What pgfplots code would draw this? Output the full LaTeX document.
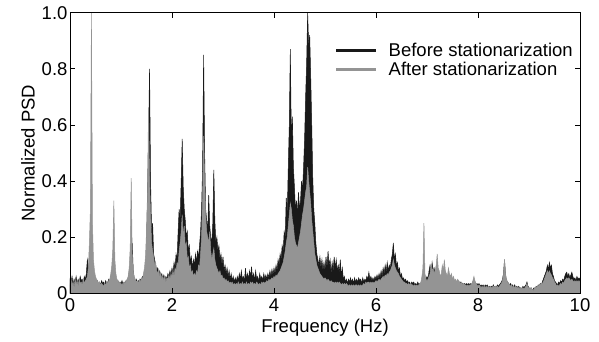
\documentclass[border=0pt]{standalone}
\usepackage{fontspec}
\setmainfont{Liberation Sans}
\usepackage{pgfplots}
\pgfplotsset{compat=1.18}
\usepackage{pgfplotstable}
\definecolor{psdblack}{RGB}{25,25,25}
\definecolor{psdgray}{RGB}{148,148,148}
\pgfplotstableread{
x b g
0.00 .05 .03
0.02 .04 .05
0.04 .06 .03
0.06 .03 .04
0.08 .05 .02
0.10 .04 .05
0.12 .06 .03
0.14 .035 .045
0.16 .05 .025
0.18 .04 .05
0.20 .06 .035
0.22 .045 .04
0.24 .05 .03
0.26 .035 .05
0.28 .06 .035
0.30 .05 .045
0.32 .07 .05
0.34 .12 .06
0.36 .10 .09
0.38 .08 .18
0.40 .06 .30
0.42 .05 1.0
0.44 .05 .25
0.46 .06 .12
0.48 .04 .08
0.50 .05 .06
0.52 .035 .05
0.54 .045 .045
0.56 .03 .035
0.58 .04 .04
0.60 .03 .03
0.62 .045 .035
0.64 .035 .03
0.66 .04 .025
0.68 .03 .035
0.70 .045 .03
0.72 .035 .04
0.74 .04 .035
0.76 .05 .045
0.78 .04 .05
0.80 .06 .07
0.82 .05 .10
0.84 .04 .16
0.86 .05 .33
0.88 .04 .12
0.90 .05 .07
0.92 .035 .05
0.94 .045 .045
0.96 .03 .035
0.98 .04 .04
1.00 .035 .03
1.02 .045 .035
1.04 .03 .03
1.06 .04 .04
1.08 .035 .035
1.10 .045 .045
1.12 .04 .05
1.14 .05 .06
1.16 .07 .09
1.18 .10 .16
1.20 .09 .41
1.22 .18 .14
1.24 .08 .08
1.26 .05 .06
1.28 .04 .05
1.30 .05 .04
1.32 .035 .045
1.34 .045 .035
1.36 .04 .05
1.38 .05 .04
1.40 .045 .055
1.42 .06 .05
1.44 .055 .07
1.46 .07 .09
1.48 .09 .13
1.50 .15 .22
1.52 .35 .36
1.54 .55 .66
1.56 .80 .40
1.58 .40 .28
1.60 .22 .18
1.62 .25 .15
1.64 .14 .13
1.66 .12 .10
1.68 .10 .11
1.70 .08 .08
1.72 .09 .07
1.74 .07 .085
1.76 .08 .06
1.78 .06 .07
1.80 .07 .05
1.82 .05 .06
1.84 .065 .045
1.86 .05 .06
1.88 .06 .04
1.90 .05 .055
1.92 .07 .05
1.94 .06 .065
1.96 .08 .05
1.98 .065 .07
2.00 .09 .06
2.02 .07 .08
2.04 .11 .06
2.06 .09 .09
2.08 .14 .08
2.10 .12 .11
2.12 .22 .10
2.14 .30 .15
2.16 .26 .18
2.18 .40 .22
2.20 .55 .28
2.22 .38 .20
2.24 .30 .24
2.26 .26 .16
2.28 .20 .18
2.30 .22 .12
2.32 .15 .13
2.34 .17 .09
2.36 .11 .10
2.38 .13 .07
2.40 .09 .08
2.42 .12 .06
2.44 .10 .07
2.46 .14 .06
2.48 .11 .08
2.50 .15 .07
2.52 .13 .10
2.54 .17 .09
2.56 .22 .14
2.58 .30 .20
2.60 .45 .35
2.62 .85 .56
2.64 .50 .40
2.66 .30 .28
2.68 .26 .22
2.70 .22 .20
2.72 .35 .18
2.74 .24 .22
2.76 .20 .15
2.78 .18 .12
2.80 .25 .14
2.82 .44 .16
2.84 .26 .12
2.86 .18 .10
2.88 .20 .09
2.90 .15 .08
2.92 .17 .07
2.94 .12 .08
2.96 .14 .06
2.98 .10 .065
3.00 .13 .05
3.02 .08 .055
3.04 .10 .045
3.06 .07 .05
3.08 .09 .04
3.10 .06 .045
3.12 .08 .035
3.14 .05 .04
3.16 .07 .035
3.18 .045 .04
3.20 .06 .03
3.22 .04 .035
3.24 .055 .03
3.26 .04 .035
3.28 .06 .03
3.30 .045 .04
3.32 .07 .03
3.34 .05 .035
3.36 .08 .03
3.38 .05 .04
3.40 .06 .03
3.42 .04 .035
3.44 .09 .03
3.46 .05 .04
3.48 .07 .03
3.50 .05 .035
3.52 .08 .03
3.54 .06 .04
3.56 .095 .035
3.58 .05 .04
3.60 .07 .03
3.62 .045 .035
3.64 .08 .03
3.66 .05 .04
3.68 .06 .035
3.70 .04 .03
3.72 .07 .035
3.74 .05 .03
3.76 .06 .04
3.78 .045 .035
3.80 .07 .04
3.82 .05 .035
3.84 .065 .04
3.86 .05 .045
3.88 .07 .04
3.90 .055 .05
3.92 .08 .045
3.94 .06 .05
3.96 .085 .055
3.98 .065 .05
4.00 .09 .06
4.02 .07 .055
4.04 .10 .065
4.06 .08 .06
4.08 .12 .07
4.10 .10 .075
4.12 .14 .08
4.14 .12 .09
4.16 .17 .10
4.18 .15 .11
4.20 .22 .13
4.22 .20 .15
4.24 .34 .18
4.26 .28 .20
4.28 .45 .24
4.30 .60 .28
4.32 .87 .32
4.34 .55 .30
4.36 .63 .26
4.38 .45 .24
4.40 .38 .20
4.42 .30 .18
4.44 .33 .17
4.46 .28 .16
4.48 .36 .18
4.50 .30 .20
4.52 .33 .22
4.54 .40 .25
4.56 .37 .28
4.58 .45 .30
4.60 .55 .33
4.62 .70 .36
4.64 .82 .38
4.66 1.00 .45
4.68 .88 .40
4.70 .92 .36
4.72 .77 .32
4.74 .60 .26
4.76 .41 .22
4.78 .30 .18
4.80 .25 .14
4.82 .18 .12
4.84 .14 .10
4.86 .12 .09
4.88 .10 .08
4.90 .13 .07
4.92 .09 .065
4.94 .12 .06
4.96 .08 .055
4.98 .11 .05
5.00 .08 .055
5.02 .13 .05
5.04 .09 .045
5.06 .15 .05
5.08 .10 .045
5.10 .12 .04
5.12 .07 .045
5.14 .11 .04
5.16 .08 .04
5.18 .13 .035
5.20 .09 .04
5.22 .12 .035
5.24 .08 .04
5.26 .10 .035
5.28 .07 .04
5.30 .12 .035
5.32 .06 .03
5.34 .09 .035
5.36 .05 .03
5.38 .06 .035
5.40 .04 .03
5.42 .05 .035
5.44 .035 .03
5.46 .05 .025
5.48 .04 .03
5.50 .055 .025
5.52 .04 .03
5.54 .05 .025
5.56 .035 .03
5.58 .055 .025
5.60 .04 .03
5.62 .05 .03
5.64 .04 .025
5.66 .055 .03
5.68 .045 .025
5.70 .05 .03
5.72 .035 .025
5.74 .055 .03
5.76 .04 .035
5.78 .05 .03
5.80 .045 .04
5.82 .06 .035
5.84 .05 .04
5.86 .075 .04
5.88 .05 .035
5.90 .06 .04
5.92 .045 .035
5.94 .055 .04
5.96 .045 .035
5.98 .06 .04
6.00 .05 .045
6.02 .065 .04
6.04 .05 .045
6.06 .07 .05
6.08 .055 .045
6.10 .08 .05
6.12 .06 .055
6.14 .09 .06
6.16 .07 .055
6.18 .10 .065
6.20 .075 .06
6.22 .11 .07
6.24 .08 .065
6.26 .10 .075
6.28 .09 .08
6.30 .12 .09
6.32 .14 .10
6.34 .18 .12
6.36 .12 .10
6.38 .14 .09
6.40 .10 .08
6.42 .11 .075
6.44 .08 .07
6.46 .09 .06
6.48 .06 .055
6.50 .07 .05
6.52 .05 .045
6.54 .055 .04
6.56 .045 .04
6.58 .05 .035
6.60 .04 .035
6.62 .045 .03
6.64 .035 .035
6.66 .04 .03
6.68 .03 .035
6.70 .04 .03
6.72 .035 .03
6.74 .04 .025
6.76 .03 .03
6.78 .035 .025
6.80 .03 .03
6.82 .04 .025
6.84 .03 .03
6.86 .035 .035
6.88 .03 .04
6.90 .04 .06
6.92 .035 .09
6.94 .04 .25
6.96 .035 .07
6.98 .05 .05
7.00 .06 .045
7.02 .05 .05
7.04 .08 .06
7.06 .10 .07
7.08 .07 .10
7.10 .11 .08
7.12 .08 .09
7.14 .09 .07
7.16 .06 .08
7.18 .08 .10
7.20 .07 .14
7.22 .06 .09
7.24 .05 .08
7.26 .06 .06
7.28 .05 .07
7.30 .06 .10
7.32 .05 .08
7.34 .06 .12
7.36 .05 .08
7.38 .06 .07
7.40 .04 .06
7.42 .05 .09
7.44 .04 .07
7.46 .05 .06
7.48 .04 .07
7.50 .045 .05
7.52 .04 .06
7.54 .045 .045
7.56 .035 .05
7.58 .04 .04
7.60 .035 .05
7.62 .04 .045
7.64 .035 .04
7.66 .04 .035
7.68 .03 .04
7.70 .035 .03
7.72 .03 .035
7.74 .035 .03
7.76 .03 .03
7.78 .035 .025
7.80 .03 .03
7.82 .035 .025
7.84 .03 .03
7.86 .035 .03
7.88 .03 .035
7.90 .04 .045
7.92 .035 .06
7.94 .04 .045
7.96 .03 .035
7.98 .035 .03
8.00 .03 .025
8.02 .035 .03
8.04 .025 .025
8.06 .03 .02
8.08 .025 .025
8.10 .03 .02
8.12 .02 .025
8.14 .03 .02
8.16 .025 .025
8.18 .03 .02
8.20 .02 .025
8.22 .025 .02
8.24 .02 .025
8.26 .025 .02
8.28 .02 .02
8.30 .03 .025
8.32 .02 .02
8.34 .025 .025
8.36 .02 .02
8.38 .03 .025
8.40 .025 .02
8.42 .03 .025
8.44 .035 .03
8.46 .04 .035
8.48 .05 .045
8.50 .07 .07
8.52 .12 .12
8.54 .06 .07
8.56 .045 .05
8.58 .04 .04
8.60 .035 .035
8.62 .03 .03
8.64 .035 .025
8.66 .025 .03
8.68 .03 .02
8.70 .02 .025
8.72 .03 .02
8.74 .02 .025
8.76 .025 .02
8.78 .02 .02
8.80 .025 .02
8.82 .015 .015
8.84 .02 .02
8.86 .015 .015
8.88 .025 .02
8.90 .02 .015
8.92 .025 .02
8.94 .03 .025
8.96 .04 .035
8.98 .025 .02
9.00 .02 .02
9.02 .015 .015
9.04 .02 .02
9.06 .01 .015
9.08 .015 .01
9.10 .02 .015
9.12 .015 .02
9.14 .025 .02
9.16 .02 .025
9.18 .03 .025
9.20 .025 .03
9.22 .035 .03
9.24 .03 .035
9.26 .04 .035
9.28 .05 .04
9.30 .06 .05
9.32 .07 .06
9.34 .08 .07
9.36 .10 .08
9.38 .085 .07
9.40 .11 .08
9.42 .09 .07
9.44 .10 .065
9.46 .07 .055
9.48 .06 .05
9.50 .045 .04
9.52 .04 .035
9.54 .035 .025
9.56 .03 .03
9.58 .04 .025
9.60 .035 .03
9.62 .045 .035
9.64 .04 .03
9.66 .05 .04
9.68 .045 .035
9.70 .06 .045
9.72 .07 .05
9.74 .075 .055
9.76 .06 .05
9.78 .07 .055
9.80 .055 .05
9.82 .065 .045
9.84 .075 .05
9.86 .06 .045
9.88 .05 .04
9.90 .055 .045
9.92 .045 .04
9.94 .06 .045
9.96 .05 .04
9.98 .055 .045
10.00 .05 .04
}\psd
\begin{document}
\begin{tikzpicture}
\begin{axis}[name=ax, scale only axis, width=510pt, height=280.6pt,
 xmin=0, xmax=10, ymin=0, ymax=1,
 xtick={0,2,4,6,8,10}, xticklabels={0,2,4,6,8,10},
 ytick={0,0.2,0.4,0.6,0.8,1}, yticklabels={0,0.2,0.4,0.6,0.8,1.0},
 tick align=inside, tick pos=both, major tick length=5pt,
 axis on top,
 axis line style={line width=0.8pt},
 tick style={line width=0.8pt, black},
 /pgf/number format/assume math mode=true,
 tick label style={font=\fontsize{18.5}{21}\selectfont},
 xticklabel style={yshift=-2pt},
 yticklabel style={xshift=1pt},
 label style={font=\fontsize{18.5}{21}\selectfont},
 xlabel={Frequency (Hz)}, ylabel={Normalized PSD},
 legend style={draw=none, fill=none, at={(0.5196,0.90)}, anchor=north west,
   font=\fontsize{18.5}{21}\selectfont, inner sep=0pt, column sep=9pt},
 legend cell align=left,
 legend image code/.code={\draw[#1] (0pt,0pt) -- (40pt,0pt);},
]
\addplot[draw=psdblack, fill=psdblack, line width=0.5pt, forget plot] table[x=x,y=b]{\psd} \closedcycle;
\addplot[draw=psdgray, fill=psdgray, line width=0.5pt, forget plot] table[x=x,y=g]{\psd} \closedcycle;
\addlegendimage{psdblack, line width=2.5pt}
\addlegendentry{Before stationarization}
\addlegendimage{psdgray, line width=2.5pt}
\addlegendentry{After stationarization}
\end{axis}
\pgfresetboundingbox
\path (ax.south west) ++(-70pt,-48.7pt) rectangle ++(599pt,342pt);
\end{tikzpicture}
\end{document}
